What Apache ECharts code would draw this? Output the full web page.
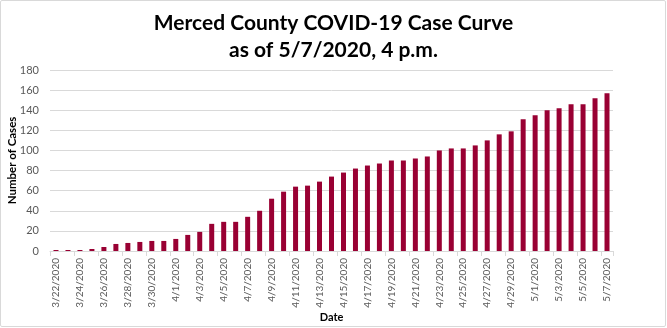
<!DOCTYPE html>
<html><head><meta charset="utf-8">
<script src="https://cdn.jsdelivr.net/npm/echarts@6/dist/echarts.min.js"></script>
<style>
html,body{margin:0;padding:0;background:#fff;}
#c{width:667px;height:328px;}
#frame{position:absolute;left:0;top:0;width:664px;height:325px;border:1px solid #d9d9d9;border-radius:2px;pointer-events:none;}
</style></head>
<body><div id="c"></div><div id="frame"></div>
<script>
const categories = ["3/22/2020","3/23/2020","3/24/2020","3/25/2020","3/26/2020","3/27/2020","3/28/2020","3/29/2020","3/30/2020","3/31/2020",
"4/1/2020","4/2/2020","4/3/2020","4/4/2020","4/5/2020","4/6/2020","4/7/2020","4/8/2020","4/9/2020","4/10/2020",
"4/11/2020","4/12/2020","4/13/2020","4/14/2020","4/15/2020","4/16/2020","4/17/2020","4/18/2020","4/19/2020","4/20/2020",
"4/21/2020","4/22/2020","4/23/2020","4/24/2020","4/25/2020","4/26/2020","4/27/2020","4/28/2020","4/29/2020","4/30/2020",
"5/1/2020","5/2/2020","5/3/2020","5/4/2020","5/5/2020","5/6/2020","5/7/2020"];
const cases = [1,1,1,2,4,7,8,9,10,10,12,16,19,27,29,29,34,40,52,59,64,65,69,74,78,82,85,87,90,90,92,94,100,102,102,105,110,116,119,131,135,140,142,146,146,152,157];
const titleLines = ["Merced County COVID-19 Case Curve","as of 5/7/2020, 4 p.m."];
const yAxisName = "Number of Cases";
const xAxisName = "Date";

const chart = echarts.init(document.getElementById('c'));
chart.setOption({
  animation:false,
  textStyle:{fontFamily:'Lato'},
  title:{text:titleLines.join('\n'),left:'center',top:5,
    textStyle:{fontFamily:'Lato',fontSize:21,fontWeight:'bold',color:'#000',lineHeight:27}},
  grid:{left:50,right:54,top:70,bottom:77,containLabel:false,outerBoundsMode:'none'},
  xAxis:{type:'category',data:categories,boundaryGap:true,
    name:xAxisName,nameLocation:'middle',nameGap:61,nameMoveOverlap:false,
    nameTextStyle:{fontFamily:'Lato',fontSize:11,fontWeight:'bold',color:'#000'},
    axisLine:{lineStyle:{color:'#d9d9d9'}},
    axisTick:{show:true,interval:1,length:5,lineStyle:{color:'#d9d9d9'}},
    axisLabel:{interval:1,rotate:90,fontSize:10,color:'#595959',margin:7}},
  yAxis:{type:'value',min:0,max:180,interval:20,
    name:yAxisName,nameLocation:'middle',nameGap:32,nameMoveOverlap:false,
    nameTextStyle:{fontFamily:'Lato',fontSize:11.5,fontWeight:'bold',color:'#000'},
    axisLine:{show:false},axisTick:{show:false},
    axisLabel:{fontSize:11,color:'#595959',margin:11},
    splitLine:{lineStyle:{color:'#d9d9d9'}}},
  series:[{type:'bar',data:cases,barWidth:5,itemStyle:{color:'#990033'}}]
});
</script></body></html>
